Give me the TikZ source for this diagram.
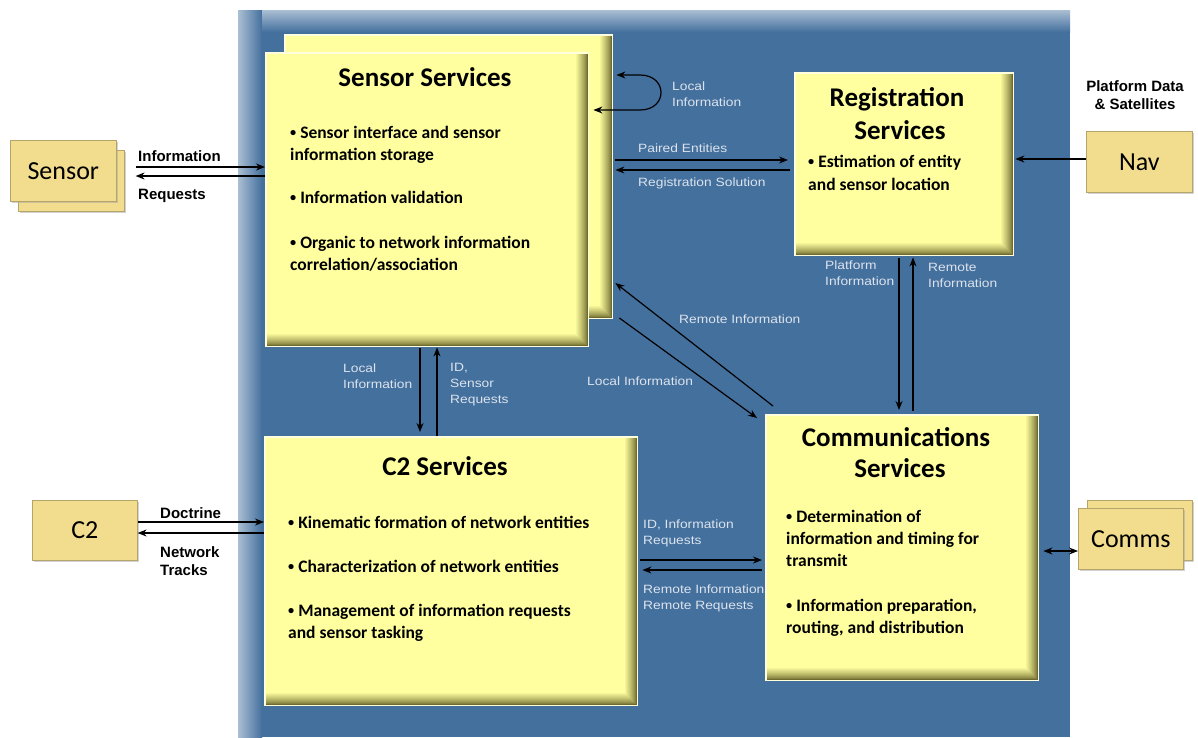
\documentclass[tikz,border=0pt]{standalone}
\usepackage{fontspec}
\setmainfont{Carlito}
\newfontfamily\lblfont[FakeStretch=1.15]{Liberation Sans}
\newfontfamily\blkfont{Liberation Sans}
\usetikzlibrary{arrows.meta,shadows,calc}
\definecolor{bgblue}{HTML}{44709E}
\definecolor{boxyel}{HTML}{FFFFA0}
\definecolor{boxdark}{HTML}{6F6B2E}
\definecolor{extyel}{HTML}{F2DC8E}
\definecolor{lblcol}{HTML}{DCE3EC}
\newcommand\bulmark{\raisebox{0.12ex}{\scalebox{0.7}{•}}}
\newcommand\bevelbox[1]{%
  \foreach \bvi in {0,...,12}{%
    \pgfmathtruncatemacro\bvpct{100*(\bvi/12)^0.75}%
    \fill[boxyel!\bvpct!boxdark] (#1.north west) rectangle ($(#1.south east)+(-\bvi,-\bvi)$);
  }
  \draw[boxyel!35!white, line width=1.3pt] (#1.north west) rectangle (#1.south east);
}
\begin{document}
\begin{tikzpicture}[x=1pt,y=-1pt,
  ybox/.style={inner sep=0pt, anchor=north west},
  ebox/.style={fill=extyel, draw=extyel!75!black, line width=0.6pt, inner sep=0pt, anchor=north west,
    minimum width=106pt, minimum height=61pt, font=\fontsize{26}{30}\selectfont,
    drop shadow={shadow xshift=2pt, shadow yshift=-2pt, fill=black!35}},
  ttl/.style={inner sep=0pt, anchor=base, font=\bfseries\fontsize{27}{32}\selectfont},
  bul/.style={inner sep=0pt, anchor=base west, font=\bfseries\fontsize{17.5}{22}\selectfont},
  lbl/.style={inner sep=0pt, anchor=north west, align=left, text=lblcol, font=\lblfont\fontsize{12}{16}\selectfont},
  blk/.style={inner sep=0pt, anchor=north west, align=left, font=\blkfont\bfseries\fontsize{15}{18}\selectfont},
  arr/.style={-{Stealth[length=9pt,width=7pt]}, line width=1.2pt},
  arrb/.style={{Stealth[length=9pt,width=7pt]}-{Stealth[length=9pt,width=7pt]}, line width=1.2pt},
]
\useasboundingbox (0,0) rectangle (1198,737);
% background panel
\fill[bgblue] (238,10) rectangle (1070,737);
\shade[left color=bgblue!45!white, right color=bgblue] (238,10) rectangle (262,737);
\shade[top color=bgblue!45!white, bottom color=bgblue] (262,10) rectangle (1070,32);

% service boxes
\node[ybox, minimum width=327pt, minimum height=283pt] (ssback) at (285,35) {};
\bevelbox{ssback}
\node[ybox, minimum width=322pt, minimum height=293pt] (ssfront) at (266,53) {};
\bevelbox{ssfront}
\node[ybox, minimum width=218pt, minimum height=182pt] (reg) at (795,73) {};
\bevelbox{reg}
\node[ybox, minimum width=372pt, minimum height=268pt] (c2) at (265,437) {};
\bevelbox{c2}
\node[ybox, minimum width=272pt, minimum height=265pt] (comms) at (766,415) {};
\bevelbox{comms}

% external boxes
\node[ebox] (sensb) at (18,150) {};
\node[ebox] (sensf) at (10,140) {Sensor};
\node[ebox] (navn) at (1086,131) {Nav};
\node[ebox, minimum width=105pt, minimum height=60pt] (c2x) at (32,500) {C2};
\node[ebox, minimum width=105pt, minimum height=60pt] (commsb) at (1087,500) {};
\node[ebox, minimum width=105pt] (commsf) at (1078,508) {Comms};

% Sensor Services text
\node[ttl] (t1) at (425,86) {Sensor Services};
\node[bul] (t1a) at (290,138) {\bulmark{} Sensor interface and sensor};
\node[bul] (t1b) at (290,160) {information storage};
\node[bul] (t1c) at (290,203) {\bulmark{} Information validation};
\node[bul] (t1d) at (290,248) {\bulmark{} Organic to network information};
\node[bul] (t1e) at (290,270) {correlation/association};

% Registration Services text
\node[ttl] (t2) at (897,106) {Registration};
\node[ttl] (t2b) at (900,139) {Services};
\node[bul] (t2c) at (808,167) {\bulmark{} Estimation of entity};
\node[bul] (t2d) at (808,190) {and sensor location};

% C2 Services text
\node[ttl] (t3) at (445,475) {C2 Services};
\node[bul] (t3a) at (288,528) {\bulmark{} Kinematic formation of network entities};
\node[bul] (t3b) at (288,572) {\bulmark{} Characterization of network entities};
\node[bul] (t3c) at (288,616) {\bulmark{} Management of information requests};
\node[bul] (t3d) at (288,638) {and sensor tasking};

% Communications Services text
\node[ttl] (t4) at (896,446) {Communications};
\node[ttl] (t4b) at (900,477) {Services};
\node[bul] (t4c) at (786,522) {\bulmark{} Determination of};
\node[bul] (t4d) at (786,544) {information and timing for};
\node[bul] (t4e) at (786,566) {transmit};
\node[bul] (t4f) at (786,611) {\bulmark{} Information preparation,};
\node[bul] (t4g) at (786,633) {routing, and distribution};

% connectors
\draw[arr] ($(sensb.east |- 0,167)+(11,0)$) -- ($(ssfront.west |- 0,167)+(-1,0)$);
\draw[arr] ($(ssfront.west |- 0,176)+(-1,0)$) -- ($(sensb.east |- 0,176)+(11,0)$);
\draw[arrb] ($(ssback.east |- 0,75)+(4,0)$) -- (640,75) .. controls (668,75) and (668,110) .. (640,110) -- ($(ssfront.east |- 0,110)+(5,0)$);
\draw[arr] ($(ssback.east |- 0,160)+(3,0)$) -- ($(reg.west |- 0,160)+(-7,0)$);
\draw[arr] ($(reg.west |- 0,170)+(-5,0)$) -- ($(ssback.east |- 0,170)+(3,0)$);
\draw[arr] (navn.west |- 0,159) -- ($(reg.east |- 0,159)+(2,0)$);
\draw[arr] ($(899,0 |- reg.south)+(0,3)$) -- ($(899,0 |- comms.north)+(0,-5)$);
\draw[arr] ($(913,0 |- comms.north)+(0,-4)$) -- ($(913,0 |- reg.south)+(0,2)$);
\draw[arr] ($(comms.north west)+(7,-9)$) -- ($(ssback.east |- 0,283)+(3,0)$);
\draw[arr] ($(ssback.east |- 0,318)+(7,0)$) -- ($(comms.north west)+(-9,3)$);
\draw[arr] ($(420,0 |- ssfront.south)+(0,2)$) -- ($(420,0 |- c2.north)+(0,-5)$);
\draw[arr] ($(437,0 |- c2.north)+(0,-1)$) -- ($(437,0 |- ssfront.south)+(0,1)$);
\draw[arr] (c2x.east |- 0,522) -- ($(c2.west |- 0,522)+(-1,0)$);
\draw[arr] ($(c2.west |- 0,533)+(-1,0)$) -- (c2x.east |- 0,533);
\draw[arr] ($(c2.east |- 0,560)+(3,0)$) -- ($(comms.west |- 0,560)+(-4,0)$);
\draw[arr] ($(comms.west |- 0,570)+(-4,0)$) -- ($(c2.east |- 0,570)+(5,0)$);
\draw[arrb] ($(comms.east |- 0,551)+(5,0)$) -- (commsf.west |- 0,551);

% black labels
\node[blk] (b1) at (138,150) {Information};
\node[blk] (b2) at (138,189) {Requests};
\node[blk] (b3) at (160,507) {Doctrine};
\node[blk] (b4) at (160,546) {Network\\Tracks};
\node[blk, align=center, anchor=north] (b5) at (1135,80) {Platform Data\\\& Satellites};

% light labels
\node[lbl] (l1) at (672,82) {Local\\Information};
\node[lbl] (l2) at (638,144) {Paired Entities};
\node[lbl] (l3) at (638,178) {Registration Solution};
\node[lbl] (l4) at (825,261) {Platform\\Information};
\node[lbl] (l5) at (928,263) {Remote\\Information};
\node[lbl] (l6) at (679,315) {Remote Information};
\node[lbl] (l7) at (587,377) {Local Information};
\node[lbl] (l8) at (343,364) {Local\\Information};
\node[lbl] (l9) at (450,363) {ID,\\Sensor\\Requests};
\node[lbl] (l10) at (643,520) {ID, Information\\Requests};
\node[lbl] (l11) at (643,585) {Remote Information\\Remote Requests};
\end{tikzpicture}
\end{document}
